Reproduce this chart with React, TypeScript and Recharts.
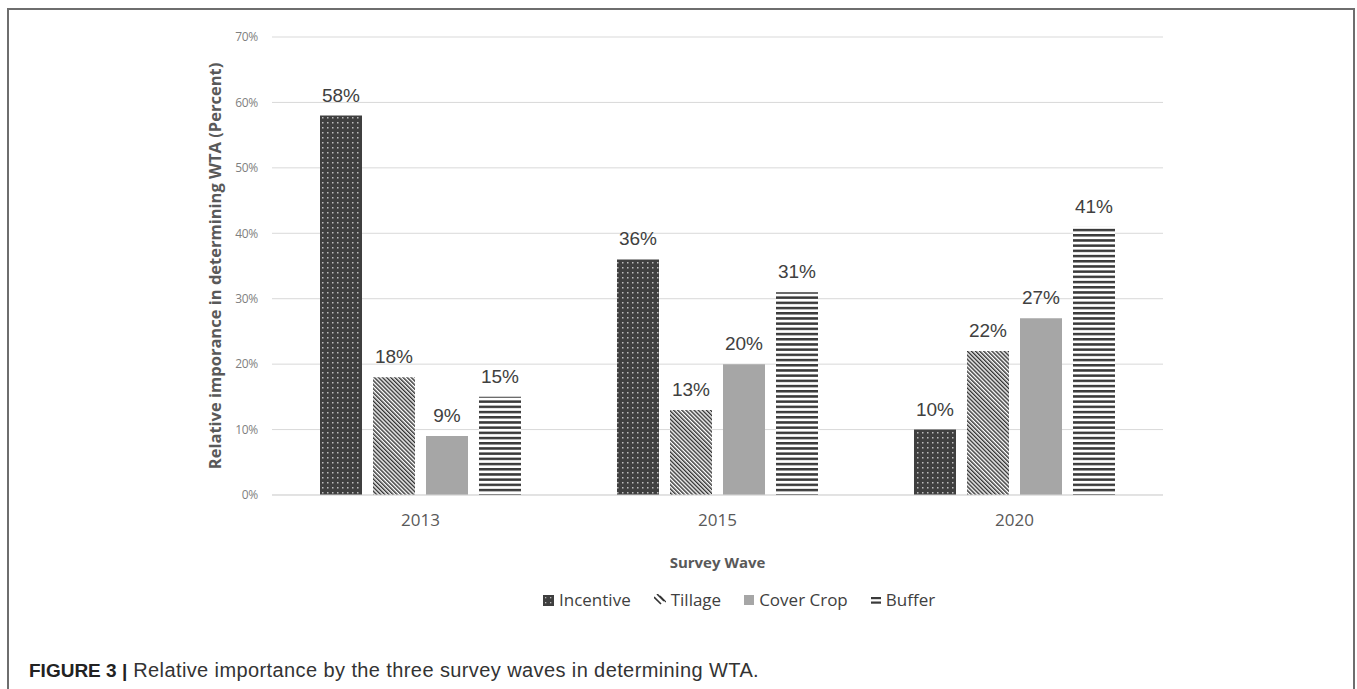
import React from 'react';
import { BarChart, Bar, XAxis, YAxis, CartesianGrid, Legend, LabelList } from 'recharts';

// Survey waves (categories)
const waves = ['2013', '2015', '2020'];

// Relative importance (percent) of each attribute per wave
const incentive = [58, 36, 10];
const tillage = [18, 13, 22];
const coverCrop = [9, 20, 27];
const buffer = [15, 31, 41];

// Y axis ticks (percent)
const yTicks = [0, 10, 20, 30, 40, 50, 60, 70];

const data = waves.map((w, i) => ({
  wave: w,
  Incentive: incentive[i],
  Tillage: tillage[i],
  'Cover Crop': coverCrop[i],
  Buffer: buffer[i],
}));

const series = [
  { key: 'Incentive', fill: 'url(#pIncentive)' },
  { key: 'Tillage', fill: 'url(#pTillage)' },
  { key: 'Cover Crop', fill: '#a6a6a6' },
  { key: 'Buffer', fill: 'url(#pBuffer)' },
];

const Patterns = () => (
  <defs>
    <pattern id="pIncentive" width="5" height="5" patternUnits="userSpaceOnUse">
      <rect width="5" height="5" fill="#3f3f3f" />
      <rect x="2" y="2" width="1.5" height="1.5" fill="#bdbdbd" />
    </pattern>
    <pattern id="pTillage" width="2.9" height="2.9" patternUnits="userSpaceOnUse" patternTransform="rotate(-45)">
      <rect width="2.9" height="2.9" fill="#ffffff" />
      <rect width="1.45" height="2.9" fill="#333333" />
    </pattern>
    <pattern id="pBuffer" width="5.2" height="5.2" patternUnits="userSpaceOnUse">
      <rect width="5.2" height="5.2" fill="#ffffff" />
      <rect y="0" width="5.2" height="2.5" fill="#3a3a3a" />
    </pattern>
  </defs>
);

const LegendIcon = ({ k }: { k: string }) => {
  if (k === 'Incentive') {
    return (
      <svg width="11" height="11" style={{ display: 'block' }}>
        <rect width="11" height="11" fill="#3f3f3f" />
        <rect x="2" y="2" width="1.3" height="1.3" fill="#bbb" />
        <rect x="7" y="2" width="1.3" height="1.3" fill="#bbb" />
        <rect x="2" y="7" width="1.3" height="1.3" fill="#bbb" />
        <rect x="7" y="7" width="1.3" height="1.3" fill="#bbb" />
      </svg>
    );
  }
  if (k === 'Tillage') {
    return (
      <svg width="12" height="12" style={{ display: 'block' }}>
        <line x1="0" y1="3" x2="7" y2="10" stroke="#333" strokeWidth="1.6" />
        <line x1="3" y1="0" x2="10" y2="7" stroke="#333" strokeWidth="1.6" />
        <line x1="6" y1="2" x2="12" y2="8" stroke="#333" strokeWidth="1.2" />
      </svg>
    );
  }
  if (k === 'Cover Crop') {
    return (
      <svg width="10" height="10" style={{ display: 'block' }}>
        <rect width="10" height="10" fill="#a6a6a6" />
      </svg>
    );
  }
  return (
    <svg width="10" height="10" style={{ display: 'block' }}>
      <rect y="2" width="10" height="2.2" fill="#3a3a3a" />
      <rect y="6.5" width="10" height="2.2" fill="#3a3a3a" />
    </svg>
  );
};

const renderLegend = () => (
  <div style={{ display: 'flex', alignItems: 'center', fontFamily: '"Open Sans", sans-serif', fontSize: 17, color: '#404040', lineHeight: '22px' }}>
    {series.map((s, i) => (
      <div key={s.key} style={{ display: 'flex', alignItems: 'center', marginRight: i < series.length - 1 ? 23 : 0 }}>
        <LegendIcon k={s.key} />
        <span style={{ marginLeft: 5 }}>{s.key}</span>
      </div>
    ))}
  </div>
);

export default function App() {
  return (
    <>
      <div
        style={{
          position: 'fixed',
          left: 7,
          top: 8,
          width: 1348,
          height: 700,
          boxSizing: 'border-box',
          borderTop: '2px solid #6e6e6e',
          borderLeft: '2px solid #6e6e6e',
          borderRight: '2px solid #6e6e6e',
          background: '#fff',
        }}
      />
      <div style={{ position: 'fixed', left: 0, top: 0, width: 1357, height: 689 }}>
        <BarChart
          width={1357}
          height={689}
          data={data}
          margin={{ top: 37, right: 194, bottom: 114, left: 212 }}
          barSize={42}
          barGap={11}
        >
          <Patterns />
          <CartesianGrid vertical={false} stroke="#d9d9d9" strokeWidth={1} />
          <XAxis
            dataKey="wave"
            height={80}
            axisLine={{ stroke: '#d9d9d9' }}
            tickLine={false}
            tickMargin={13}
            tick={{ fill: '#595959', fontSize: 17, fontFamily: '"Open Sans", sans-serif' }}
            label={{
              value: 'Survey Wave',
              position: 'insideBottom',
              offset: 7,
              style: { fill: '#595959', fontSize: 15, fontWeight: 700, fontFamily: '"Open Sans", sans-serif' },
            }}
          />
          <YAxis
            width={60}
            domain={[0, 70]}
            ticks={yTicks}
            axisLine={false}
            tickLine={false}
            tickMargin={8}
            tickFormatter={(v: number) => `${v}%`}
            tick={{ fill: '#7f7f7f', fontSize: 12, fontFamily: '"Open Sans", sans-serif', letterSpacing: -0.3 }}
            label={{
              value: 'Relative imporance in determining WTA (Percent)',
              angle: -90,
              position: 'insideLeft',
              offset: 3,
              style: { textAnchor: 'middle', fill: '#595959', fontSize: 16.5, fontWeight: 700, fontFamily: '"Open Sans", sans-serif' },
            }}
          />
          <Legend
            layout="horizontal"
            verticalAlign="middle"
            align="center"
            content={renderLegend}
            wrapperStyle={{ top: 589, left: 543, width: 430 }}
          />
          {series.map((s) => (
            <Bar key={s.key} dataKey={s.key} fill={s.fill} isAnimationActive={false}>
              <LabelList
                dataKey={s.key}
                position="top"
                offset={14}
                formatter={(v: number) => `${v}%`}
                style={{ fill: '#404040', fontSize: 19, fontFamily: '"Liberation Sans", Arial, sans-serif' }}
              />
            </Bar>
          ))}
        </BarChart>
      </div>
      <div
        style={{
          position: 'fixed',
          left: 29,
          top: 659,
          fontFamily: '"Liberation Sans", Arial, sans-serif',
          fontSize: 20,
          letterSpacing: 0.4,
          color: '#333',
          whiteSpace: 'nowrap',
        }}
      >
        <span style={{ fontWeight: 700, color: '#222', fontSize: 19, letterSpacing: 0 }}>FIGURE 3 |</span> Relative importance by the three survey waves in determining WTA.
      </div>
    </>
  );
}
